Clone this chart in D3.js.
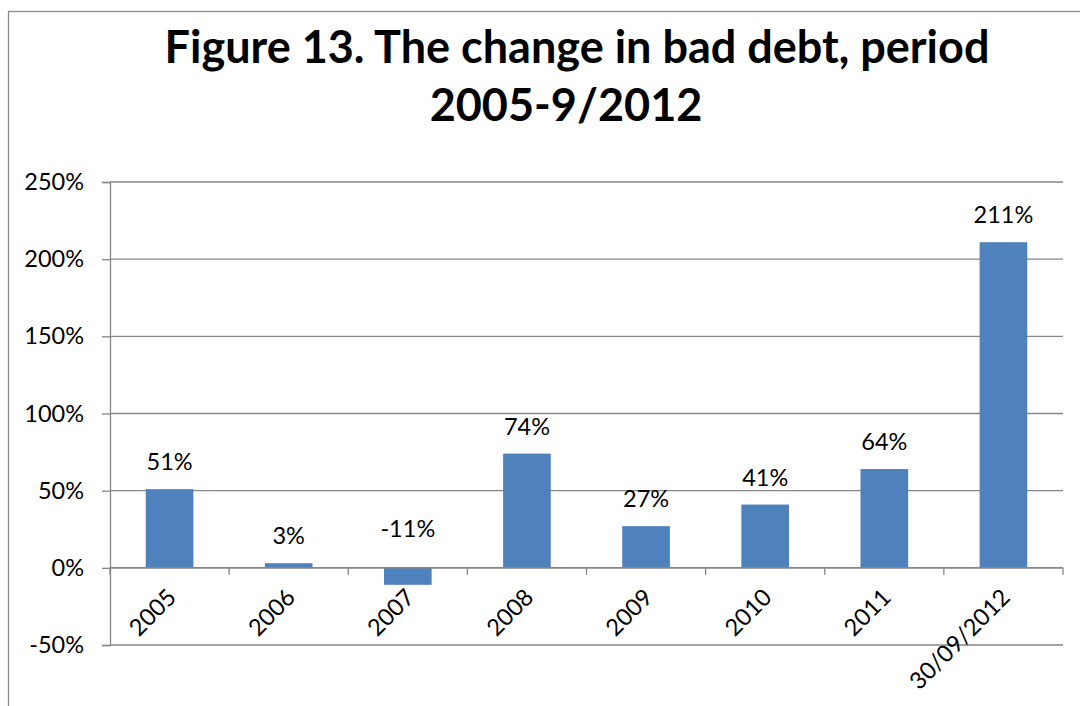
<!DOCTYPE html>
<html>
<head>
<meta charset="utf-8">
<script src="https://cdn.jsdelivr.net/npm/d3@7"></script>
<style>
  html, body { margin: 0; padding: 0; background: #fff; }
  svg { display: block; font-family: Lato, "Open Sans", sans-serif; }
</style>
</head>
<body>
<svg id="chart" width="1080" height="706"></svg>
<script>
// Bad debt change by period
const categories = ["2005", "2006", "2007", "2008", "2009", "2010", "2011", "30/09/2012"];
const changePct = [51, 3, -11, 74, 27, 41, 64, 211];
const yTicks = [-50, 0, 50, 100, 150, 200, 250];
const titleLines = ["Figure 13. The change in bad debt, period", "2005-9/2012"];

const svg = d3.select("#chart");
const plot = { left: 110, right: 1063, top: 182, bottom: 645 };
const labelSize = 23.5;

// chart frame (runs past the right and bottom edges)
svg.append("rect")
  .attr("x", 8.5).attr("y", 11.5)
  .attr("width", 1300).attr("height", 900)
  .attr("fill", "#fff").attr("stroke", "#8a8a8a").attr("stroke-width", 1.3);

// title
const title = svg.append("g").attr("font-weight", 700).attr("font-size", 45)
  .attr("fill", "#000").attr("text-anchor", "middle");
title.append("text").attr("x", 577).attr("y", 63).text(titleLines[0]);
title.append("text").attr("x", 566).attr("y", 121).text(titleLines[1]);

const x = d3.scaleBand()
  .domain(categories)
  .range([plot.left, plot.right])
  .paddingInner(0.6)
  .paddingOuter(0.3);

const y = d3.scaleLinear()
  .domain([-50, 250])
  .range([plot.bottom, plot.top]);

const gridColor = "#868686";

// horizontal gridlines
svg.append("g").selectAll("line")
  .data(yTicks)
  .join("line")
  .attr("x1", plot.left).attr("x2", plot.right)
  .attr("y1", d => y(d)).attr("y2", d => y(d))
  .attr("stroke", gridColor).attr("stroke-width", 1.3);

// y axis
const yAxis = svg.append("g")
  .attr("transform", `translate(${plot.left},0)`)
  .call(d3.axisLeft(y).tickValues(yTicks).tickFormat(d => d + "%").tickSize(8).tickPadding(18));
yAxis.select(".domain").attr("stroke", gridColor).attr("stroke-width", 1.3);
yAxis.selectAll(".tick line").attr("stroke", gridColor).attr("stroke-width", 1.3);
yAxis.selectAll(".tick text")
  .attr("font-family", "Lato, 'Open Sans', sans-serif")
  .attr("font-size", labelSize).attr("fill", "#000");

// bars
svg.append("g").selectAll("rect")
  .data(changePct)
  .join("rect")
  .attr("x", (d, i) => x(categories[i]))
  .attr("width", x.bandwidth())
  .attr("y", d => y(Math.max(0, d)))
  .attr("height", d => Math.abs(y(d) - y(0)))
  .attr("fill", "#4f81bd");

// category axis along the zero line
const step = x.step();
const boundaries = d3.range(categories.length + 1).map(i => plot.left + i * step);
const xAxis = svg.append("g");
xAxis.append("line")
  .attr("x1", plot.left).attr("x2", plot.right)
  .attr("y1", y(0)).attr("y2", y(0))
  .attr("stroke", gridColor).attr("stroke-width", 1.5);
xAxis.selectAll("line.tick")
  .data(boundaries)
  .join("line")
  .attr("class", "tick")
  .attr("x1", d => d).attr("x2", d => d)
  .attr("y1", y(0)).attr("y2", y(0) + 7)
  .attr("stroke", gridColor).attr("stroke-width", 1.3);

xAxis.selectAll("text.cat")
  .data(categories)
  .join("text")
  .attr("class", "cat")
  .attr("text-anchor", "end")
  .attr("font-size", labelSize)
  .attr("fill", "#000")
  .attr("transform", d => `translate(${x(d) + x.bandwidth() / 2 + 8},${y(0) + 31}) rotate(-45)`)
  .text(d => d);

// value labels
svg.append("g").selectAll("text")
  .data(changePct)
  .join("text")
  .attr("text-anchor", "middle")
  .attr("font-size", labelSize)
  .attr("fill", "#000")
  .attr("x", (d, i) => x(categories[i]) + x.bandwidth() / 2)
  .attr("y", d => d >= 0 ? y(d) - 19 : y(0) - 31)
  .text(d => d + "%");
</script>
</body>
</html>
